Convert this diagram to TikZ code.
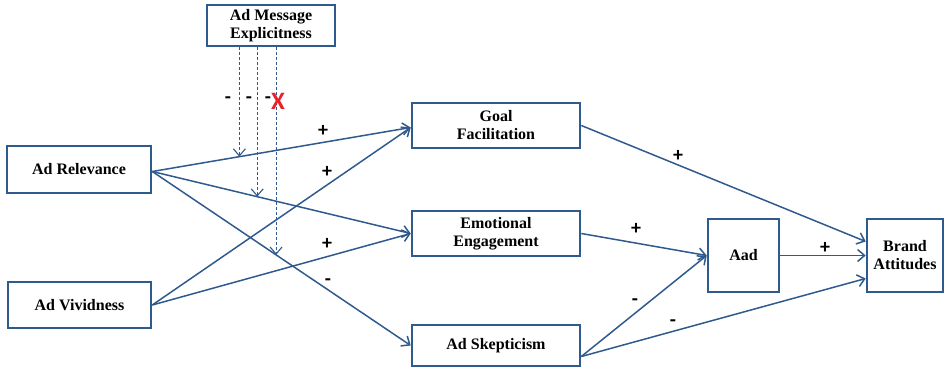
\documentclass[tikz,border=0pt]{standalone}
\usepackage{fontspec}
\setmainfont{Liberation Serif}
\newfontfamily\signfont{Carlito}
\usetikzlibrary{arrows.meta,positioning}
\definecolor{PathBlue}{HTML}{2F5A8E}
\definecolor{FlagRed}{HTML}{E8202A}

\begin{document}
\begin{tikzpicture}[x=1pt, y=-1pt,
  construct/.style={draw=PathBlue,line width=2.6pt,fill=white,align=center,inner sep=2pt,font=\fontsize{16}{18}\selectfont\bfseries},
  link/.style={draw=PathBlue,line width=1.5pt,-{Straight Barb[length=7pt,width=12pt]}},
  moderation/.style={link,line width=1.1pt,dash pattern=on 3pt off 2pt},
  sign/.style={font=\signfont\bfseries\fontsize{20}{20}\selectfont,inner sep=0pt}]
\useasboundingbox (0,0) rectangle (945,367);
% constructs
\node[construct,minimum width=128pt,minimum height=41pt] (explicit) at (271,25.5) {Ad Message\\Explicitness};
\node[construct,minimum width=144pt,minimum height=47pt] (relevance) at (79,169.5) {Ad Relevance};
\node[construct,minimum width=143pt,minimum height=46pt] (vividness) at (79.5,305) {Ad Vividness};
\node[construct,minimum width=168pt,minimum height=45pt] (goal) at (496,125.5) {Goal\\Facilitation};
\node[construct,minimum width=168pt,minimum height=45pt] (emotion) at (496,233.5) {Emotional\\Engagement};
\node[construct,minimum width=168pt,minimum height=41pt] (skepticism) at (496,345.5) {Ad Skepticism};
\node[construct,minimum width=71pt,minimum height=73pt] (aad) at (743.5,255.5) {Aad};
\node[construct,minimum width=76pt,minimum height=73pt] (brand) at (905,255.5) {Brand\\Attitudes};
% paths
\draw[link] ([yshift=-2pt]relevance.east) -- coordinate[pos=0.337] (onGoal) ([yshift=-2pt]goal.west);
\draw[link] ([yshift=-2pt]relevance.east) -- coordinate[pos=0.406] (onEmotion) (emotion.west);
\draw[link] ([yshift=-2pt]relevance.east) -- coordinate[pos=0.479] (onSkeptic) (skepticism.west);
\draw[link] (vividness.east) -- ([yshift=-2pt]goal.west);
\draw[link] (vividness.east) -- (emotion.west);
\draw[link] (goal.east) -- ([yshift=14pt]brand.west);
\draw[link] (emotion.east) -- (aad.west);
\draw[link] ([yshift=-11pt]skepticism.east) -- (aad.west);
\draw[link] ([yshift=-11pt]skepticism.east) -- ([yshift=-23pt]brand.west);
\draw[link] (aad.east) -- (brand.west);
% moderation
\draw[moderation] (onGoal |- explicit.south) -- (onGoal);
\draw[moderation] (onEmotion |- explicit.south) -- (onEmotion);
\draw[moderation] (onSkeptic |- explicit.south) -- (onSkeptic);
% signs
\node[sign] (m1) at (228,100) {-};
\node[sign] (m2) at (249,100) {-};
\node[sign] (m3) at (268,100) {-};
\node[sign,text=FlagRed,font=\signfont\bfseries\fontsize{25}{25}\selectfont] (cross) at (278,101) {X};
\node[sign] (s1) at (323,131) {+};
\node[sign] (s2) at (327,172) {+};
\node[sign] (s3) at (327,244) {+};
\node[sign] (s4) at (328,282) {-};
\node[sign] (s5) at (678,156) {+};
\node[sign] (s6) at (636,229) {+};
\node[sign] (s7) at (825,248) {+};
\node[sign] (s8) at (635,302) {-};
\node[sign] (s9) at (673,323) {-};
\end{tikzpicture}
\end{document}
